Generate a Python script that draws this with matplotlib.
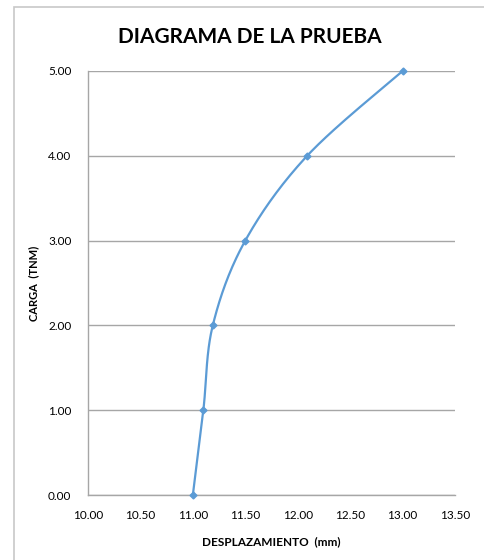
import matplotlib
matplotlib.use("Agg")
import matplotlib.pyplot as plt
from matplotlib.patches import Rectangle
import numpy as np

desplazamiento = [11.00, 11.10, 11.19, 11.50, 12.09, 13.00]
carga = [0.00, 1.00, 2.00, 3.00, 4.00, 5.00]
xticks = [10.00, 10.50, 11.00, 11.50, 12.00, 12.50, 13.00, 13.50]
yticks = [0.00, 1.00, 2.00, 3.00, 4.00, 5.00]


def excel_smooth(x, y, n=40):
    # Bezier smoothing similar to Excel's "smoothed line"
    x = np.asarray(x, float)
    y = np.asarray(y, float)
    px, py = [x[0]], [y[0]]
    t = np.linspace(0, 1, n)[1:]
    for i in range(len(x) - 1):
        i0 = max(i - 1, 0)
        i3 = min(i + 2, len(x) - 1)
        c1x = x[i] + (x[i + 1] - x[i0]) / 6
        c1y = y[i] + (y[i + 1] - y[i0]) / 6
        c2x = x[i + 1] - (x[i3] - x[i]) / 6
        c2y = y[i + 1] - (y[i3] - y[i]) / 6
        bx = ((1 - t) ** 3 * x[i] + 3 * (1 - t) ** 2 * t * c1x
              + 3 * (1 - t) * t ** 2 * c2x + t ** 3 * x[i + 1])
        by = ((1 - t) ** 3 * y[i] + 3 * (1 - t) ** 2 * t * c1y
              + 3 * (1 - t) * t ** 2 * c2y + t ** 3 * y[i + 1])
        px.extend(bx)
        py.extend(by)
    return np.array(px), np.array(py)


plt.rcParams['font.family'] = ['Lato', 'DejaVu Sans']

fig = plt.figure(figsize=(4.84, 5.6), dpi=100)
fig.patches.append(Rectangle((14 / 484, -0.1), 1.2, 1 - 7 / 560 + 0.1,
                             transform=fig.transFigure, fill=False,
                             edgecolor='#c8c8c8', linewidth=1.2))

ax = fig.add_axes([88 / 484, 65 / 560, 367 / 484, 424 / 560])
sx, sy = excel_smooth(desplazamiento, carga)
ax.plot(sx, sy, color='#5B9BD5', linewidth=1.6, zorder=3, clip_on=False)
ax.plot(desplazamiento, carga, linestyle='none', marker='D', markersize=3.5,
        color='#5B9BD5', zorder=4, clip_on=False)

ax.set_xlim(10.0, 13.5)
ax.set_ylim(0.0, 5.0)
ax.set_xticks(xticks)
ax.set_yticks(yticks)
ax.set_xticklabels([f'{v:.2f}' for v in xticks], fontsize=8.5)
ax.set_yticklabels([f'{v:.2f}' for v in yticks], fontsize=8.5)
ax.tick_params(axis='x', length=0, pad=11)
ax.tick_params(axis='y', length=0, pad=12)
ax.grid(axis='y', color='#a6a6a6', linewidth=1)
ax.set_axisbelow(True)
for side in ('top', 'right'):
    ax.spines[side].set_visible(False)
for side in ('left', 'bottom'):
    ax.spines[side].set_color('#a6a6a6')
    ax.spines[side].set_linewidth(1)

ax.set_xlabel('DESPLAZAMIENTO  (mm)', fontsize=8.5, fontweight='bold', labelpad=11)
ax.set_ylabel('CARGA  (TNM)', fontsize=8, fontweight='bold', labelpad=6)
fig.text(250 / 484, 1 - 37 / 560, 'DIAGRAMA DE LA PRUEBA', fontsize=15,
         fontweight='bold', ha='center', va='center')

fig.savefig('out.png', dpi=100)
